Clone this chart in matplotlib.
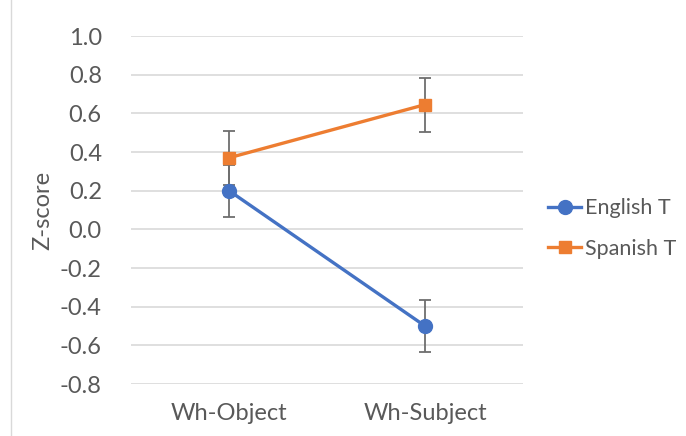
import matplotlib
matplotlib.use("Agg")
import matplotlib.pyplot as plt
from matplotlib.lines import Line2D

# ── Data ──────────────────────────────────────────
categories = ["Wh-Object", "Wh-Subject"]
english_t = [0.20, -0.50]
english_err = [0.135, 0.135]
spanish_t = [0.37, 0.645]
spanish_err = [0.14, 0.14]
y_ticks = [1.0, 0.8, 0.6, 0.4, 0.2, 0.0, -0.2, -0.4, -0.6, -0.8]

BLUE = "#4472C4"
ORANGE = "#ED7D31"
TEXT = "#595959"
GRID = "#D9D9D9"
FS = 17

plt.rcParams["font.family"] = ["Lato", "DejaVu Sans"]

fig = plt.figure(figsize=(6.86, 4.36), dpi=100)
ax = fig.add_axes([131 / 686, 1 - 384 / 436, 392 / 686, 348 / 436])

x = list(range(len(categories)))

for vals, errs, color, marker, label in [
    (english_t, english_err, BLUE, "o", "English T"),
    (spanish_t, spanish_err, ORANGE, "s", "Spanish T"),
]:
    ax.errorbar(x, vals, yerr=errs, fmt="none", ecolor="#6E6E6E",
                elinewidth=1.3, capsize=4, capthick=1.3, zorder=2)
    ax.plot(x, vals, color=color, lw=2.4, marker=marker, ms=10 if marker == "o" else 9,
            label=label, zorder=3)

ax.set_xlim(-0.5, 1.5)
ax.set_ylim(-0.8, 1.0)
ax.set_yticks(y_ticks)
ax.set_yticklabels([f"{v:.1f}" for v in y_ticks])
ax.set_xticks(x)
ax.set_xticklabels(categories)
ax.grid(axis="y", color=GRID, lw=1.2)
ax.set_axisbelow(True)
for s in ax.spines.values():
    s.set_visible(False)
ax.tick_params(length=0, labelsize=FS, colors=TEXT)
ax.tick_params(axis="y", pad=21)
ax.tick_params(axis="x", pad=14)
ax.set_ylabel("Z-score", fontsize=FS, color=TEXT, labelpad=5)

ax.legend(loc="center left", bbox_to_anchor=(1.064, 0.447), frameon=False,
          borderaxespad=0, borderpad=0,
          fontsize=15.5, labelcolor=TEXT, handlelength=1.55, handletextpad=0.15,
          labelspacing=0.95)

# chart frame edge on the left
fig.add_artist(Line2D([11 / 686, 11 / 686], [0, 1], color=GRID, lw=1))

fig.savefig("out.png", dpi=100)
